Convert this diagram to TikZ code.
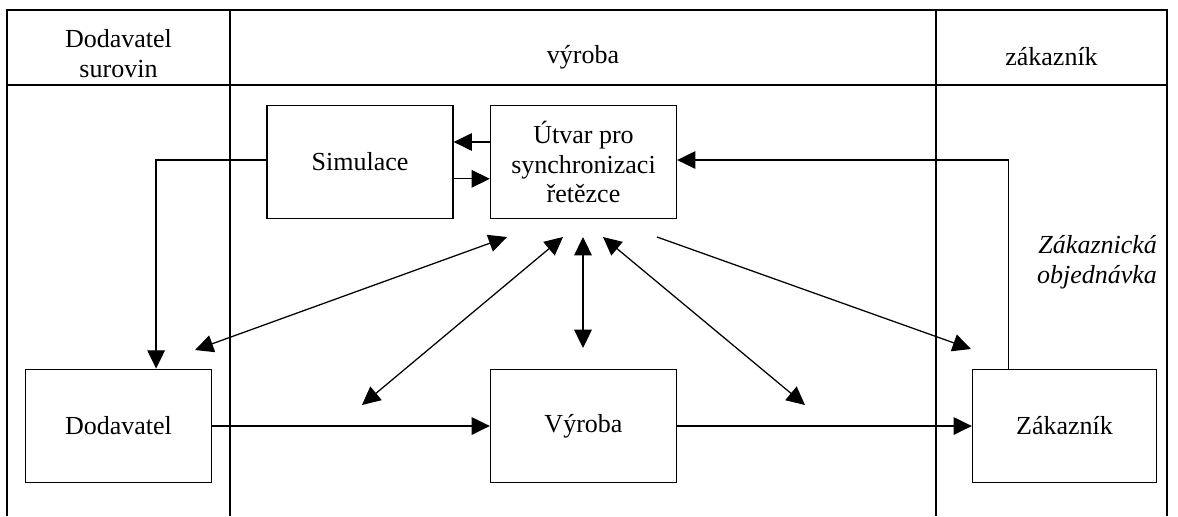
\documentclass[tikz,border=0pt]{standalone}
\usepackage{fontspec}
\setmainfont{Liberation Serif}
\usetikzlibrary{arrows.meta, positioning}

\tikzset{
  box/.style={draw, line width=0.9pt, minimum width=4.65cm, minimum height=2.84cm, align=center, font=\fontsize{18.5}{21.3}\selectfont},
  lbl/.style={align=center, font=\fontsize{18.5}{21.3}\selectfont},
  arr/.style={-{Triangle[length=13pt,width=12.5pt]}, line width=0.9pt},
  darr/.style={{Triangle[length=13pt,width=12.5pt]}-{Triangle[length=13pt,width=12.5pt]}, line width=0.9pt}
}

\begin{document}
\begin{tikzpicture}[x=0.025cm, y=-0.025cm]
  \fill[white] (0,0) rectangle (1178,516);
  \useasboundingbox (0,0) rectangle (1178,516);

  % Frame and lanes
  \draw[line width=0.9pt] (7,516) -- (7,10) -- (1167,10) -- (1167,516);
  \draw[line width=0.9pt] (7,85) -- (1167,85);
  \draw[line width=0.9pt] (230,10) -- (230,516);
  \draw[line width=1.8pt] (936,10) -- (936,516);

  % Lane headers
  \node[lbl] (hdod) at (118.5,54) {Dodavatel\\surovin};
  \node[lbl] (hvyr) at (583,57) {výroba};
  \node[lbl] (hzak) at (1051.5,57) {zákazník};

  % Boxes
  \node[box] (sim) at (360,162) {Simulace};
  \node[box] (utvar) at (583.5,162) {Útvar pro\\synchronizaci\\řetězce};
  \node[box] (dod) at (118.5,426) {Dodavatel};
  \node[box] (vyr) at (583.5,426) {Výroba};
  \node[box, minimum width=4.6cm] (zak) at (1064.5,426) {Zákazník};

  \node[lbl, font=\fontsize{18.5}{21.3}\selectfont\itshape, align=right] (obj) at (1097,262) {Zákaznická\\objednávka};

  % Free ends of the links round the synchronisation unit
  \coordinate (u1) at (507,237);
  \coordinate (u2) at (563,237);
  \coordinate (u3) at (583,237);
  \coordinate (u4) at (603,237);
  \coordinate (u5) at (657,237);
  \coordinate (d1) at (195,350);
  \coordinate (d2) at (362,405);
  \coordinate (d3) at (583,348);
  \coordinate (d4) at (805,405);
  \coordinate (d5) at (971,349);

  % Links
  \draw[arr] ([yshift=0.5cm]utvar.west) -- ([yshift=0.5cm]sim.east);
  \draw[arr] ([yshift=-0.42cm]sim.east) -- ([yshift=-0.42cm]utvar.west);
  \draw[arr] ([yshift=0.05cm]sim.west) -| ([xshift=0.94cm]dod.north);
  \draw[arr] ([xshift=0.92cm]zak.north west) |- ([yshift=0.05cm]utvar.east);
  \draw[arr] (dod.east) -- (vyr.west);
  \draw[arr] (vyr.east) -- (zak.west);

  \draw[darr] (u1) -- (d1);
  \draw[darr] (u2) -- (d2);
  \draw[darr] (u3) -- (d3);
  \draw[darr] (u4) -- (d4);
  \draw[arr] (u5) -- (d5);
\end{tikzpicture}
\end{document}
